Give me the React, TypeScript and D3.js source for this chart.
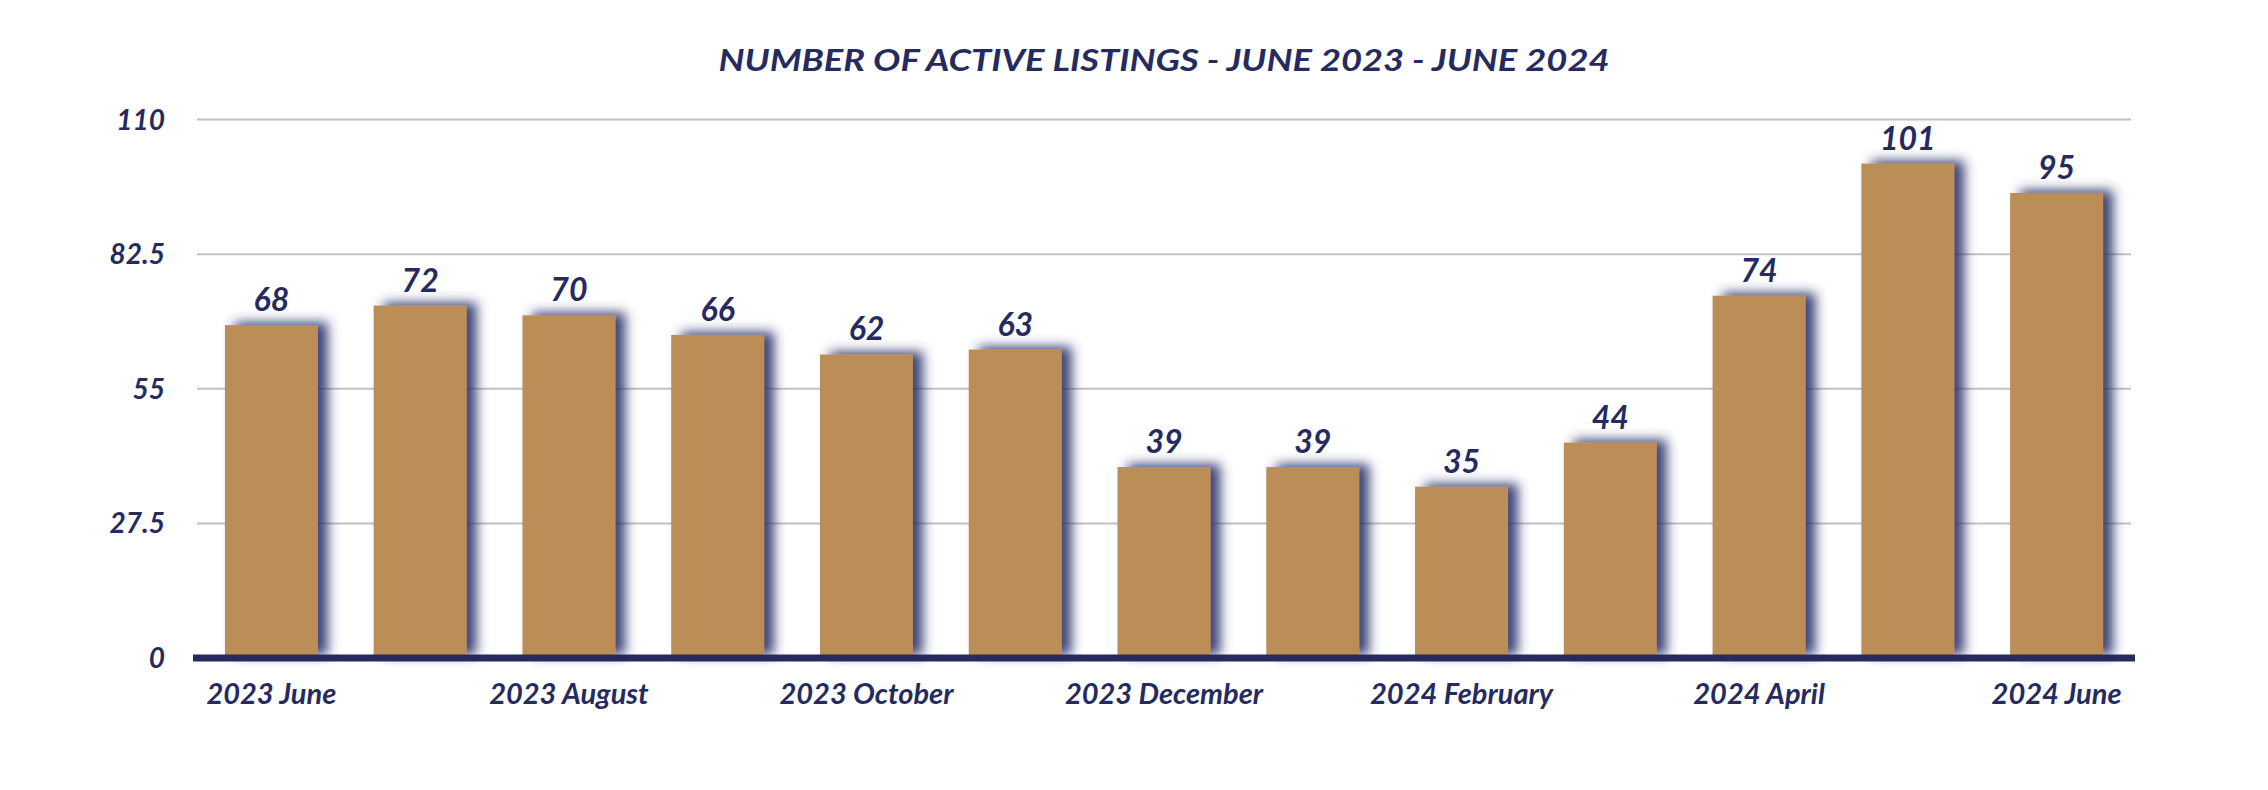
import React, { useEffect } from "react";
import * as d3 from "d3";

const categories = [
  "2023 June", "2023 July", "2023 August", "2023 September", "2023 October",
  "2023 November", "2023 December", "2024 January", "2024 February",
  "2024 March", "2024 April", "2024 May", "2024 June",
];
const values = [68, 72, 70, 66, 62, 63, 39, 39, 35, 44, 74, 101, 95];
const yTicks = [0, 27.5, 55, 82.5, 110];
const shownLabels = [
  "2023 June", "2023 August", "2023 October", "2023 December",
  "2024 February", "2024 April", "2024 June",
];
const title = "NUMBER OF ACTIVE LISTINGS - JUNE 2023 - JUNE 2024";

const W = 2268;
const H = 790;
const NAVY = "#252b5f";
const BAR = "#bb8e59";
const FONT = "Lato, 'Open Sans', 'DejaVu Sans', sans-serif";

export default function App() {
  useEffect(() => {
    document.body.style.margin = "0";
  }, []);

  const x = d3.scaleBand<string>().domain(categories).range([197, 2131]).paddingInner(0.375).paddingOuter(0.1875);
  const y = d3.scaleLinear().domain([0, 110]).range([658, 119.5]);

  return (
    <svg width={W} height={H} style={{ display: "block", background: "#fff" }}>
      <defs>
        <filter id="sh" x="-30%" y="-10%" width="160%" height="120%">
          <feDropShadow dx="10" dy="-3" stdDeviation="6" floodColor="#2a3068" floodOpacity="0.9" />
        </filter>
      </defs>
      <text
        x={1164}
        y={71}
        textAnchor="middle"
        fontFamily={FONT}
        fontWeight={700}
        fontStyle="italic"
        fontSize={30}
        fill={NAVY}
        textLength={891}
        lengthAdjust="spacingAndGlyphs"
      >
        {title}
      </text>
      {yTicks.slice(1).map((t) => (
        <line key={t} x1={197} x2={2131} y1={y(t)} y2={y(t)} stroke="#c2c2c2" strokeWidth={2} />
      ))}
      {yTicks.map((t) => (
        <text
          key={"l" + t}
          x={165}
          y={y(t)}
          dy="0.36em"
          textAnchor="end"
          fontFamily={FONT}
          fontWeight={700}
          fontStyle="italic"
          fontSize={28}
          fill={NAVY}
        >
          {String(t)}
        </text>
      ))}
      {categories.map((c, i) => (
        <rect
          key={c}
          x={x(c)!}
          y={y(values[i])}
          width={x.bandwidth()}
          height={y(0) - y(values[i])}
          fill={BAR}
          filter="url(#sh)"
        />
      ))}
      {categories.map((c, i) => (
        <text
          key={"v" + c}
          x={x(c)! + x.bandwidth() / 2}
          y={y(values[i]) - 14}
          textAnchor="middle"
          fontFamily={FONT}
          fontWeight={700}
          fontStyle="italic"
          fontSize={32}
          fill={NAVY}
        >
          {values[i]}
        </text>
      ))}
      <line x1={193} x2={2135} y1={y(0)} y2={y(0)} stroke={NAVY} strokeWidth={7} />
      {categories.filter((c) => shownLabels.includes(c)).map((c) => (
        <text
          key={"x" + c}
          x={x(c)! + x.bandwidth() / 2}
          y={704}
          textAnchor="middle"
          fontFamily={FONT}
          fontWeight={700}
          fontStyle="italic"
          fontSize={29}
          fill={NAVY}
        >
          {c}
        </text>
      ))}
    </svg>
  );
}
